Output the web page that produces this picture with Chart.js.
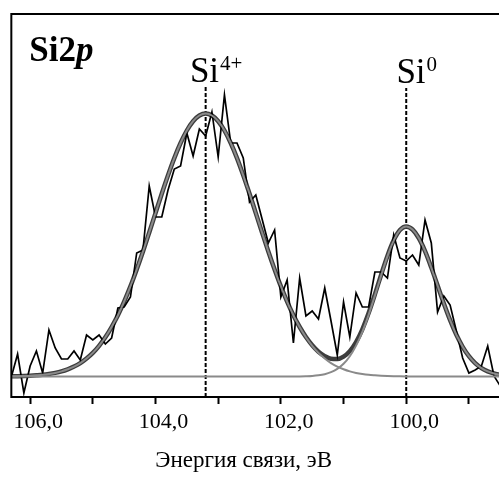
<!DOCTYPE html>
<html>
<head>
<meta charset="utf-8">
<script src="https://cdn.jsdelivr.net/npm/chart.js@4.4.0/dist/chart.umd.min.js"></script>
<style>
  html, body { margin: 0; padding: 0; background: #fff; overflow: hidden; }
</style>
</head>
<body>
<canvas id="xpsChart" width="499" height="478"></canvas>
<script>
// binding energy grid, eV
const energy = [106.3, 106.2, 106.1, 106.0, 105.9, 105.8, 105.7, 105.6, 105.5, 105.4,
    105.3, 105.2, 105.1, 105.0, 104.9, 104.8, 104.7, 104.6, 104.5, 104.4,
    104.3, 104.2, 104.1, 104.0, 103.9, 103.8, 103.7, 103.6, 103.5, 103.4,
    103.3, 103.2, 103.1, 103.0, 102.9, 102.8, 102.7, 102.6, 102.5, 102.4,
    102.3, 102.2, 102.1, 102.0, 101.9, 101.8, 101.7, 101.6, 101.5, 101.4,
    101.3, 101.2, 101.1, 101.0, 100.9, 100.8, 100.7, 100.6, 100.5, 100.4,
    100.3, 100.2, 100.1, 100.0, 99.9, 99.8, 99.7, 99.6, 99.5, 99.4,
    99.3, 99.2, 99.1, 99.0, 98.9, 98.8, 98.7, 98.6, 98.5];

// measured spectrum (arb. units)
const measured = [20, 43, 4, 31, 46, 24, 67, 49, 38, 38,
    46, 37, 62, 57, 62, 53, 59, 89, 90, 100,
    144, 147, 211, 180, 180, 207, 228, 231, 264, 241,
    268, 261, 285, 240, 302, 254, 254, 239, 195, 202,
    178, 154, 167, 100, 117, 54, 119, 81, 86, 78,
    109, 76, 42, 95, 60, 104, 90, 90, 125, 125,
    119, 162, 139, 136, 142, 132, 177, 154, 85, 101,
    92, 66, 39, 24, 27, 31, 51, 21, 11];

// Si4+ component (with background)
const fitSi4 = [20.7, 20.8, 21.0, 21.3, 21.7, 22.2, 23.0, 24.1, 25.6, 27.7,
    30.4, 33.9, 38.5, 44.1, 51.2, 59.7, 69.9, 81.7, 95.4, 110.6,
    127.5, 145.5, 164.5, 183.9, 203.2, 221.7, 238.9, 254.0, 266.5, 275.8,
    281.5, 283.5, 281.5, 275.8, 266.5, 254.0, 238.9, 221.7, 203.2, 183.9,
    164.5, 145.5, 127.5, 110.6, 95.4, 81.7, 69.9, 59.7, 51.2, 44.1,
    38.5, 33.9, 30.4, 27.7, 25.6, 24.1, 23.0, 22.2, 21.7, 21.3,
    21.0, 20.8, 20.7, 20.6, 20.5, 20.5, 20.5, 20.5, 20.5, 20.5,
    20.5, 20.5, 20.5, 20.5, 20.5, 20.5, 20.5, 20.5, 20.5];

// Si0 component (with background)
const fitSi0 = [20.5, 20.5, 20.5, 20.5, 20.5, 20.5, 20.5, 20.5, 20.5, 20.5,
    20.5, 20.5, 20.5, 20.5, 20.5, 20.5, 20.5, 20.5, 20.5, 20.5,
    20.5, 20.5, 20.5, 20.5, 20.5, 20.5, 20.5, 20.5, 20.5, 20.5,
    20.5, 20.5, 20.5, 20.5, 20.5, 20.5, 20.5, 20.5, 20.5, 20.5,
    20.5, 20.5, 20.5, 20.5, 20.5, 20.5, 20.6, 20.8, 21.1, 21.7,
    22.8, 24.8, 28.1, 33.2, 40.8, 51.4, 65.2, 82.2, 101.4, 121.5,
    140.6, 156.4, 166.8, 170.5, 167.5, 159.0, 145.8, 129.4, 111.5, 93.5,
    76.8, 62.2, 50.2, 40.8, 33.8, 28.9, 25.6, 23.5, 22.2];

// sum of the fit
const envelope = [20.7, 20.8, 21.0, 21.3, 21.7, 22.2, 23.0, 24.1, 25.6, 27.7,
    30.4, 33.9, 38.5, 44.1, 51.2, 59.7, 69.9, 81.7, 95.4, 110.6,
    127.5, 145.5, 164.5, 183.9, 203.2, 221.7, 238.9, 254.0, 266.5, 275.8,
    281.5, 283.5, 281.5, 275.8, 266.5, 254.0, 238.9, 221.7, 203.2, 183.9,
    164.5, 145.5, 127.5, 110.6, 95.4, 81.7, 70.0, 60.0, 51.8, 45.3,
    40.8, 38.2, 38.0, 40.4, 45.9, 55.0, 67.7, 83.9, 102.6, 122.3,
    141.1, 156.7, 167.0, 170.6, 167.5, 159.0, 145.8, 129.4, 111.5, 93.5,
    76.8, 62.2, 50.2, 40.8, 33.8, 28.9, 25.6, 23.5, 22.2];

const peakEnergy = [103.2, 100.0];
const peakCharge = ['4+', '0'];
const markerTop = [310, 309];

const serif = '"Liberation Serif", "Times New Roman", serif';
const toPoints = ys => energy.map((e, i) => ({x: e, y: ys[i]}));

const lineStyle = {pointRadius: 0, fill: false};

const datasets = [
    Object.assign({data: toPoints(fitSi4), borderColor: '#8a8a8a', borderWidth: 2,
        cubicInterpolationMode: 'monotone'}, lineStyle),
    Object.assign({data: toPoints(fitSi0), borderColor: '#8a8a8a', borderWidth: 2,
        cubicInterpolationMode: 'monotone'}, lineStyle),
    Object.assign({data: toPoints(measured), borderColor: '#000', borderWidth: 1.7,
        tension: 0}, lineStyle),
    Object.assign({data: toPoints(envelope), borderColor: '#3d3d3d', borderWidth: 4.5,
        cubicInterpolationMode: 'monotone'}, lineStyle)
];

peakEnergy.forEach((e, i) => {
    datasets.push(Object.assign({
        data: [{x: e, y: 0}, {x: e, y: markerTop[i]}],
        borderColor: '#000', borderWidth: 2, borderDash: [4, 2]
    }, lineStyle));
});

// frame: top, left and bottom edges (right side is cut off)
const frame = {
    id: 'frame',
    afterDatasetsDraw(chart) {
        const {ctx, chartArea: a} = chart;
        ctx.save();
        ctx.strokeStyle = '#000';
        ctx.lineWidth = 2;
        ctx.beginPath();
        ctx.moveTo(a.right + 5, a.top);
        ctx.lineTo(a.left, a.top);
        ctx.lineTo(a.left, a.bottom);
        ctx.lineTo(a.right + 5, a.bottom);
        ctx.stroke();
        ctx.restore();
    }
};

const peakText = {
    id: 'peakText',
    afterDatasetsDraw(chart) {
        const {ctx, chartArea: a, scales: {x, y}} = chart;
        ctx.save();
        ctx.fillStyle = '#000';
        ctx.textBaseline = 'alphabetic';
        ctx.textAlign = 'left';

        ctx.font = 'bold 35px ' + serif;
        ctx.fillText('Si2', a.left + 18, a.top + 47);
        const w = ctx.measureText('Si2').width;
        ctx.font = 'bold italic 35px ' + serif;
        ctx.fillText('p', a.left + 18 + w, a.top + 47);

        peakEnergy.forEach((e, i) => {
            const px = x.getPixelForValue(e);
            const base = y.getPixelForValue(markerTop[i]) - 5;
            ctx.font = '35px ' + serif;
            const wMain = ctx.measureText('Si').width;
            ctx.font = '21px ' + serif;
            const wSup = ctx.measureText(peakCharge[i]).width;
            const left = px + 10 - (wMain + wSup) / 2;
            ctx.font = '35px ' + serif;
            ctx.fillText('Si', left, base);
            ctx.font = '21px ' + serif;
            ctx.fillText(peakCharge[i], left + wMain + 1, base - 12);
        });
        ctx.restore();
    }
};

new Chart(document.getElementById('xpsChart'), {
    type: 'line',
    data: {datasets},
    options: {
        responsive: false,
        animation: false,
        layout: {padding: {top: 14, left: 10, right: 0, bottom: 3}},
        plugins: {legend: {display: false}, tooltip: {enabled: false}},
        scales: {
            x: {
                type: 'linear',
                reverse: true,
                min: 98.52,
                max: 106.3,
                afterFit: s => { s.height = 78; },
                grid: {drawOnChartArea: false, drawTicks: true, tickLength: 7,
                    tickWidth: 2, tickColor: '#000'},
                border: {display: false},
                ticks: {
                    stepSize: 1,
                    includeBounds: false,
                    autoSkip: false,
                    maxRotation: 0,
                    padding: 5,
                    labelOffset: 8,
                    color: '#000',
                    font: {family: serif, size: 22},
                    callback: v => (v % 2 === 0 ? v.toFixed(1).replace('.', ',') : '')
                },
                title: {
                    display: true,
                    text: 'Энергия связи, эВ\u00a0\u00a0\u00a0\u00a0',
                    color: '#000',
                    font: {family: serif, size: 23},
                    padding: {top: 0, bottom: 0}
                }
            },
            y: {
                display: false,
                min: 0,
                max: 383
            }
        }
    },
    plugins: [frame, peakText]
});
</script>
</body>
</html>
